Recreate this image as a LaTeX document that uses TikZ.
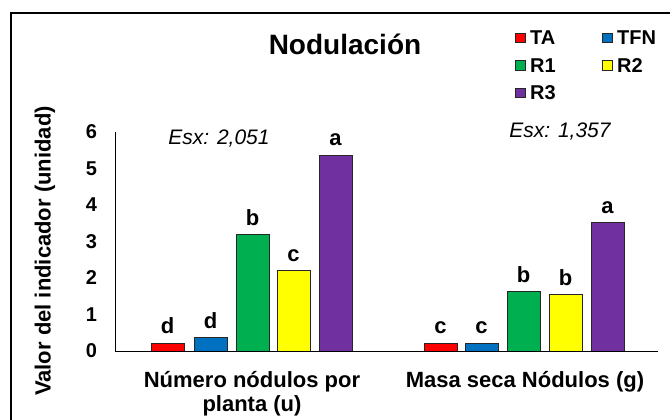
\documentclass[tikz,border=0pt]{standalone}
\usepackage{fontspec}
\setmainfont{Liberation Sans}
\definecolor{cTA}{RGB}{255,0,0}
\definecolor{cTFN}{RGB}{0,112,192}
\definecolor{cRa}{RGB}{0,176,80}
\definecolor{cRb}{RGB}{255,255,0}
\definecolor{cRc}{RGB}{112,48,160}
\begin{document}
\begin{tikzpicture}[x=1pt,y=-1pt,
  bar/.style={draw=black!85,line width=0.9pt},
  lett/.style={font=\fontsize{22}{22}\selectfont\bfseries,anchor=base},
  tick/.style={font=\fontsize{20}{20}\selectfont\bfseries,anchor=east},
  leg/.style={font=\fontsize{20}{20}\selectfont\bfseries,anchor=west,inner sep=0pt},
  sq/.style={draw=black!85,line width=0.7pt,minimum width=10pt,minimum height=9.5pt,inner sep=0pt},
  esx/.style={font=\fontsize{21}{21}\selectfont\itshape,anchor=base},
  cat/.style={font=\fontsize{22}{24}\selectfont\bfseries,anchor=base}]
\useasboundingbox (0,0) rectangle (670,420);
\fill[white] (0,0) rectangle (670,420);
% frame
\draw[line width=2pt] (11,440) -- (11,13) -- (690,13);
% title
\node[font=\fontsize{28}{28}\selectfont\bfseries,anchor=base] (title) at (345,55) {Nodulación};
% legend
\node[sq,fill=cTA] (sTA) at (520,38) {};
\node[leg] (lTA) at (530,38) {TA};
\node[sq,fill=cTFN] (sTFN) at (607,38) {};
\node[leg] (lTFN) at (617,38) {TFN};
\node[sq,fill=cRa] (sR1) at (520,65.5) {};
\node[leg] (lR1) at (530,65.5) {R1};
\node[sq,fill=cRb] (sR2) at (607,65.5) {};
\node[leg] (lR2) at (617,65.5) {R2};
\node[sq,fill=cRc] (sR3) at (520,93) {};
\node[leg] (lR3) at (530,93) {R3};
% esx
\node[esx] (e1) at (219,144) {Esx: 2,051};
\node[esx] (e2) at (560,138) {Esx: 1,357};
% axes
\coordinate (o) at (115,351);
\coordinate (ytop) at (115,132);
\coordinate (xend) at (658,351);
\draw[line width=0.9pt] (ytop) -- (o) -- (xend);
\foreach \v in {0,...,6}{
  \node[tick] (t\v) at (100.5,351-36.5*\v) {\v};
}
\node[rotate=90,font=\fontsize{22}{22}\selectfont\bfseries] (ylab) at (45,251) {Valor del indicador (unidad)};
% bars
\newcommand{\mybar}[4]{%
  \fill[#3] (#1,351) rectangle (#1+33,{351-36.5*#2});
  \draw[bar] (#1,351) -- (#1,{351-36.5*#2}) -- (#1+33,{351-36.5*#2}) -- (#1+33,351);
  \node[lett] at (#1+16.5,{351-36.5*#2-9}) {#4};
}
\mybar{151}{0.22}{cTA}{d}
\mybar{194}{0.38}{cTFN}{d}
\mybar{236}{3.2}{cRa}{b}
\mybar{277}{2.2}{cRb}{c}
\mybar{319}{5.37}{cRc}{a}
\mybar{424}{0.22}{cTA}{c}
\mybar{465}{0.22}{cTFN}{c}
\mybar{507}{1.62}{cRa}{b}
\mybar{549}{1.56}{cRb}{b}
\mybar{591}{3.53}{cRc}{a}
\draw[line width=0.9pt] (o) -- (xend);
% category labels
\node[cat] (c1) at (252,387) {Número nódulos por};
\node[cat] (c1b) at (252,411) {planta (u)};
\node[cat] (c2) at (525,387) {Masa seca Nódulos (g)};
\end{tikzpicture}
\end{document}
